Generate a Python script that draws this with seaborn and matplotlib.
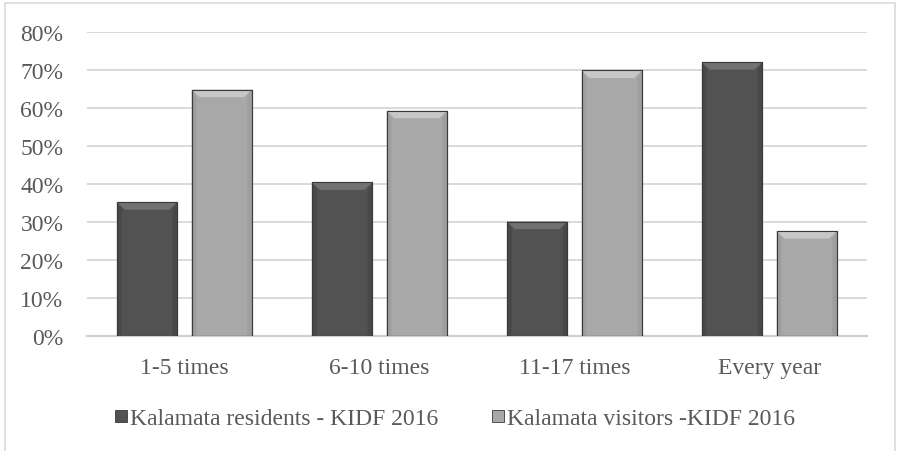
import matplotlib
matplotlib.use("Agg")
import matplotlib.pyplot as plt
import seaborn as sns
import pandas as pd
import numpy as np
from matplotlib.patches import Polygon, Rectangle
from matplotlib.ticker import PercentFormatter
from matplotlib.lines import Line2D

categories = ["1-5 times", "6-10 times", "11-17 times", "Every year"]
residents = [0.352, 0.404, 0.301, 0.720]
visitors = [0.648, 0.592, 0.698, 0.276]
series_names = ["Kalamata residents - KIDF 2016", "Kalamata visitors -KIDF 2016"]
yticks = [0, 0.1, 0.2, 0.3, 0.4, 0.5, 0.6, 0.7, 0.8]

df = pd.DataFrame({
    "category": categories * 2,
    "value": residents + visitors,
    "series": [series_names[0]] * 4 + [series_names[1]] * 4,
})

sns.set_style("white")
plt.rcParams["font.family"] = ["Liberation Serif", "DejaVu Serif"]

FS = 17
fig = plt.figure(figsize=(8.98, 4.52), dpi=100)
ax = fig.add_axes([87 / 898, (452 - 337) / 452, 780 / 898, (337 - 32.7) / 452])

colors = ["#525252", "#a8a8a8"]
sns.barplot(data=df, x="category", y="value", hue="series", hue_order=series_names,
            palette=colors, width=0.766, gap=0.19, ax=ax, legend=False,
            edgecolor="#3a3a3a", linewidth=0.8, zorder=3)

inv = ax.transData.inverted()
px0 = ax.transData.transform((0, 0))
dx = inv.transform(px0 + np.array([8, 0]))[0] - inv.transform(px0)[0]
dy = inv.transform(px0 + np.array([0, 8]))[1] - inv.transform(px0)[1]
for p in list(ax.patches):
    x0, y0 = p.get_x(), p.get_y()
    w, h = p.get_width(), p.get_height()
    fc = p.get_facecolor()
    top = y0 + h
    light = tuple(min(1, c + 0.12) for c in fc[:3])
    dark = tuple(max(0, c - 0.07) for c in fc[:3])
    ax.add_patch(Polygon([(x0, top), (x0 + w, top), (x0 + w - dx, top - dy), (x0 + dx, top - dy)],
                         closed=True, facecolor=light, edgecolor="none", zorder=4))
    ax.add_patch(Polygon([(x0, top), (x0 + dx * 0.6, top - dy), (x0 + dx * 0.6, y0), (x0, y0)],
                         closed=True, facecolor=dark, edgecolor="none", zorder=4, alpha=0.5))
    ax.add_patch(Polygon([(x0 + w, top), (x0 + w - dx * 0.6, top - dy), (x0 + w - dx * 0.6, y0), (x0 + w, y0)],
                         closed=True, facecolor=dark, edgecolor="none", zorder=4, alpha=0.5))
    ax.add_patch(Rectangle((x0, y0), w, h, facecolor="none", edgecolor="#3a3a3a", lw=0.8, zorder=5))

ax.set_ylim(0, 0.8)
ax.set_xlim(-0.5, len(categories) - 0.5)
ax.set_yticks(yticks)
ax.yaxis.set_major_formatter(PercentFormatter(1.0, decimals=0))
ax.grid(axis="y", color="#d9d9d9", lw=1.4, zorder=0)
ax.set_axisbelow(True)
for s in ["top", "right", "left"]:
    ax.spines[s].set_visible(False)
ax.spines["bottom"].set_color("#d0d0d0")
ax.spines["bottom"].set_linewidth(1.6)
ax.set_xlabel("")
ax.set_ylabel("")
ax.tick_params(axis="both", length=0, labelsize=FS, labelcolor="#595959")
ax.tick_params(axis="y", pad=17)
ax.tick_params(axis="x", pad=15)

handles = [Line2D([0], [0], marker="s", linestyle="none", markersize=9,
                  markerfacecolor=c, markeredgecolor="#3a3a3a", markeredgewidth=0.6)
           for c in colors]
leg = fig.legend(handles, series_names, loc="center", bbox_to_anchor=(0.506, (452 - 419) / 452),
                 ncol=2, frameon=False, fontsize=FS, handletextpad=0.1, columnspacing=2.2,
                 handlelength=0.6, borderpad=0, borderaxespad=0)
for t in leg.get_texts():
    t.set_color("#595959")

fig.patches.append(Rectangle((5 / 898, -0.05), 890 / 898, 1.05 - 4 / 452,
                             transform=fig.transFigure, fill=False,
                             edgecolor="#d9d9d9", lw=1.2))

fig.savefig("out.png", dpi=100)
